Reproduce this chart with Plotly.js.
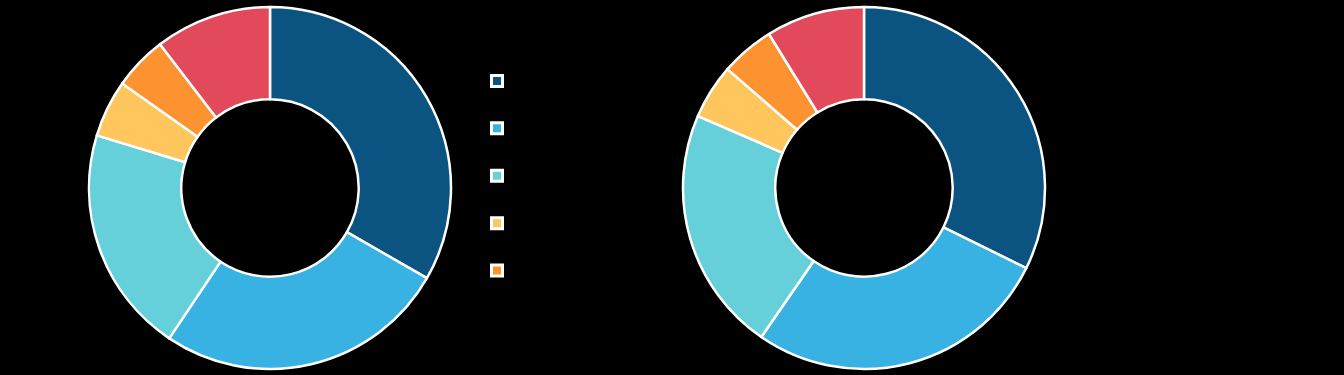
<!DOCTYPE html>
<html>
<head>
<meta charset="utf-8">
<script src="https://cdn.plot.ly/plotly-3.0.1.min.js"></script>
<style>
  html, body { margin: 0; padding: 0; background: #000; }
  #chart { width: 1344px; height: 375px; }
</style>
</head>
<body>
<div id="chart"></div>
<script>
// Market share by segment, two periods
const segments = ["Segment A", "Segment B", "Segment C", "Segment D", "Segment E", "Others"];
const colors = ["#0B5381", "#38B1E3", "#66D0DA", "#FFC65D", "#FC9330", "#E24A5B"];
const shareFirst = [33.3, 26.1, 20.3, 5.1, 4.8, 10.4];
const shareSecond = [32.3, 27.3, 21.9, 4.9, 4.8, 8.8];
const legendCount = 5;

const W = 1344;
const pieSpan = 0.27;
const centerFirst = 270 / W;
const centerSecond = 864 / W;

function donut(values, cx) {
  return {
    type: "pie",
    labels: segments,
    values: values,
    sort: false,
    direction: "clockwise",
    rotation: 0,
    hole: 0.49,
    textinfo: "none",
    hoverinfo: "label+percent",
    showlegend: false,
    marker: { colors: colors, line: { color: "#ffffff", width: 2.5 } },
    domain: { x: [cx - pieSpan / 2, cx + pieSpan / 2], y: [0, 1] }
  };
}

const traces = [donut(shareFirst, centerFirst), donut(shareSecond, centerSecond)];

// Legend keys for the main segments
for (let i = 0; i < legendCount; i++) {
  traces.push({
    type: "scatter",
    mode: "markers",
    x: [null],
    y: [null],
    name: segments[i],
    legendgroup: "g" + i,
    marker: { symbol: "square", size: 11, color: colors[i], line: { color: "#ffffff", width: 3 } },
    hoverinfo: "skip"
  });
}

const layout = {
  width: 1344,
  height: 375,
  margin: { l: 0, r: 0, t: 7, b: 6 },
  paper_bgcolor: "#000000",
  plot_bgcolor: "#000000",
  xaxis: { visible: false },
  yaxis: { visible: false },
  showlegend: true,
  legend: {
    x: 477 / W,
    xanchor: "left",
    y: 1 - 59 / 362,
    yanchor: "top",
    bgcolor: "rgba(0,0,0,0)",
    borderwidth: 0,
    tracegroupgap: 27.5,
    font: { family: "Roboto", size: 13, color: "#000000" }
  }
};

Plotly.newPlot("chart", traces, layout, { displayModeBar: false, staticPlot: true });
</script>
</body>
</html>
